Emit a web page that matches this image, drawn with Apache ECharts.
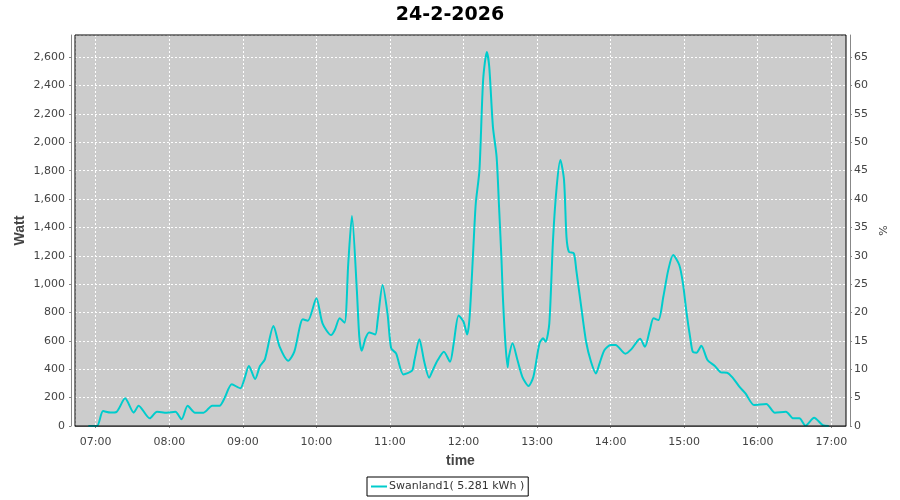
<!DOCTYPE html>
<html>
<head>
<meta charset="utf-8">
<title>24-2-2026</title>
<script src="https://cdn.jsdelivr.net/npm/echarts@6/dist/echarts.min.js"></script>
<style>
  html, body { margin: 0; padding: 0; background: #fff; }
  #chart { width: 900px; height: 500px; }
</style>
</head>
<body>
<div id="chart"></div>
<script>
const times = [
  '06:54', '07:01', '07:06', '07:12', '07:17', '07:24', '07:31', '07:35', '07:44', '07:50',
  '07:58', '08:05', '08:10', '08:15', '08:21', '08:28', '08:35', '08:41', '08:45', '08:51',
  '08:58', '09:01', '09:05', '09:10', '09:14', '09:18', '09:25', '09:30', '09:37', '09:42',
  '09:49', '09:53', '10:00', '10:05', '10:12', '10:15', '10:19', '10:23', '10:26', '10:29',
  '10:33', '10:35', '10:37', '10:40', '10:43', '10:48', '10:50', '10:54', '10:58', '11:01',
  '11:05', '11:11', '11:18', '11:20', '11:24', '11:28', '11:32', '11:35', '11:39', '11:44',
  '11:49', '11:52', '11:56', '12:00', '12:03', '12:05', '12:08', '12:10', '12:13', '12:16',
  '12:19', '12:21', '12:24', '12:27', '12:29', '12:31', '12:32', '12:34', '12:36', '12:37',
  '12:40', '12:44', '12:48', '12:53', '12:57', '13:02', '13:05', '13:07', '13:10', '13:13',
  '13:16', '13:19', '13:22', '13:24', '13:26', '13:30', '13:32', '13:36', '13:40', '13:44',
  '13:48', '13:51', '13:55', '14:00', '14:04', '14:12', '14:17', '14:24', '14:28', '14:32',
  '14:35', '14:39', '14:43', '14:47', '14:51', '14:56', '14:59', '15:02', '15:05', '15:07',
  '15:10', '15:14', '15:19', '15:25', '15:30', '15:35', '15:40', '15:45', '15:50', '15:57',
  '16:07', '16:14', '16:23', '16:29', '16:34', '16:39', '16:46', '16:53', '16:58'
];
const watts = [
  0, 0, 105, 95, 100, 195, 94, 143, 54, 101,
  94, 100, 47, 143, 94, 94, 143, 143, 195, 294,
  266, 324, 423, 331, 423, 470, 705, 559, 460, 524,
  752, 742, 900, 724, 641, 677, 759, 728, 1147, 1480,
  958, 629, 531, 618, 660, 646, 747, 994, 794, 548,
  512, 364, 390, 465, 611, 453, 340, 395, 465, 524,
  453, 583, 780, 735, 645, 770, 1250, 1569, 1804, 2438,
  2638, 2532, 2109, 1898, 1545, 1170, 935, 606, 414, 488,
  583, 465, 347, 282, 347, 583, 618, 594, 724, 1311,
  1686, 1875, 1734, 1334, 1228, 1217, 1099, 841, 594, 453,
  371, 442, 536, 571, 571, 510, 542, 615, 559, 677,
  759, 747, 911, 1099, 1205, 1135, 1006, 794, 618, 524,
  517, 566, 465, 423, 378, 376, 336, 277, 230, 148,
  155, 94, 101, 54, 54, 2, 58, 7, 0
];
const seriesName = 'Swanland1( 5.281 kWh )';
const chartTitle = '24-2-2026';

function ts(hhmm, sec) {
  const p = hhmm.split(':');
  return new Date(2026, 1, 24, +p[0], +p[1], sec || 0).getTime();
}
function pad(n) { return (n < 10 ? '0' : '') + n; }

const seriesData = times.map((t, i) => [ts(t), watts[i]]);

const chart = echarts.init(document.getElementById('chart'));
const labelFont = { color: '#444', fontFamily: 'DejaVu Sans', fontSize: 11 };
const plotBox = { left: 75, top: 35, width: 771, height: 391 };

chart.setOption({
  animation: false,
  backgroundColor: '#fff',
  title: {
    text: chartTitle,
    left: 'center',
    top: 6,
    padding: 0,
    textStyle: { fontFamily: 'DejaVu Sans', fontWeight: 'bold', fontSize: 19, color: '#000' }
  },
  legend: {
    left: 367,
    top: 477,
    padding: [4, 4, 4, 4],
    borderColor: '#000',
    borderWidth: 1,
    borderRadius: 0,
    icon: 'rect',
    itemWidth: 16,
    itemHeight: 2,
    textStyle: { color: '#333', fontFamily: 'DejaVu Sans', fontSize: 11, padding: [0, 0, 0, -3] },
    data: [seriesName]
  },
  grid: [
    Object.assign({ show: true, backgroundColor: '#cccccc', borderWidth: 0 }, plotBox),
    // border only, drawn above the dashed grid lines
    Object.assign({ show: true, backgroundColor: 'transparent', borderColor: '#000', borderWidth: 1, z: 10 }, plotBox)
  ],
  xAxis: {
    type: 'time',
    gridIndex: 0,
    min: ts('06:43', 6),
    max: ts('17:12'),
    minInterval: 3600 * 1000,
    maxInterval: 3600 * 1000,
    offset: 4,
    name: 'time',
    nameLocation: 'middle',
    nameGap: 24,
    nameTextStyle: { color: '#444', fontFamily: 'Liberation Sans', fontWeight: 'bold', fontSize: 14 },
    axisLine: { lineStyle: { color: '#888' } },
    axisTick: { length: 2, lineStyle: { color: '#888' } },
    axisLabel: Object.assign({
      margin: 7,
      formatter: v => { const d = new Date(v); return pad(d.getHours()) + ':' + pad(d.getMinutes()); }
    }, labelFont),
    splitLine: { show: true, lineStyle: { color: '#fff', type: [2, 2] } }
  },
  yAxis: [
    {
      type: 'value',
      gridIndex: 0,
      min: 0,
      max: 2757,
      interval: 200,
      offset: 4,
      name: 'Watt',
      nameLocation: 'middle',
      nameGap: 44,
      nameMoveOverlap: false,
      nameTextStyle: { color: '#444', fontFamily: 'Liberation Sans', fontWeight: 'bold', fontSize: 14 },
      axisLine: { show: true, lineStyle: { color: '#888' } },
      axisTick: { show: true, length: 2, lineStyle: { color: '#888' } },
      axisLabel: Object.assign({
        margin: 6,
        showMaxLabel: false,
        formatter: v => v.toLocaleString('en-US')
      }, labelFont),
      splitLine: { show: true, lineStyle: { color: '#fff', type: [2, 2] } }
    },
    {
      type: 'value',
      gridIndex: 0,
      position: 'right',
      min: 0,
      max: 68.9,
      interval: 5,
      offset: 4,
      name: '%',
      nameLocation: 'middle',
      nameGap: 23,
      nameTextStyle: { color: '#444', fontFamily: 'DejaVu Sans', fontSize: 11 },
      axisLine: { show: true, lineStyle: { color: '#888' } },
      axisTick: { show: true, length: 2, lineStyle: { color: '#888' } },
      axisLabel: Object.assign({ margin: 4, showMaxLabel: false }, labelFont),
      splitLine: { show: false }
    }
  ],
  series: [
    {
      name: seriesName,
      type: 'line',
      xAxisIndex: 0,
      yAxisIndex: 0,
      data: seriesData,
      showSymbol: false,
      symbol: 'none',
      smooth: 0.25,
      lineStyle: { color: '#00cccc', width: 2 },
      itemStyle: { color: '#00cccc' }
    }
  ]
});
</script>
</body>
</html>
